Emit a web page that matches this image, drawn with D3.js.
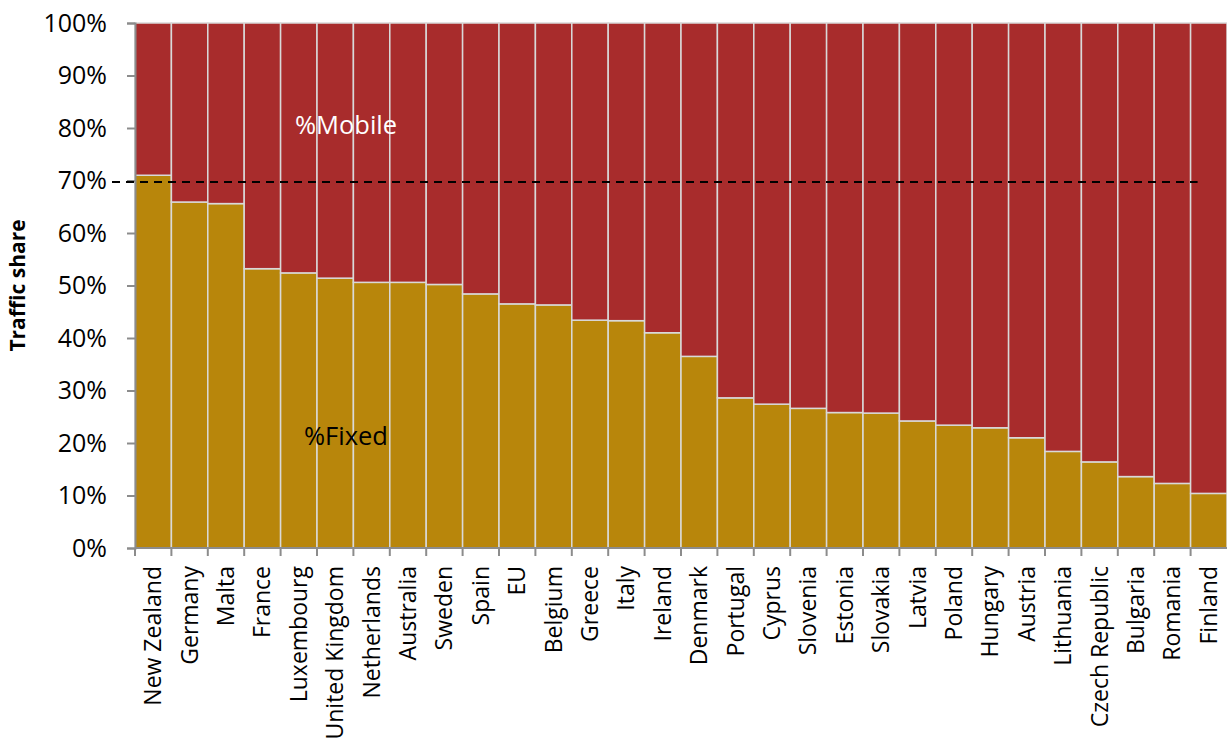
<!DOCTYPE html>
<html>
<head>
<meta charset="utf-8">
<script src="https://d3js.org/d3.v7.min.js"></script>
<style>
  body { margin: 0; background: #fff; }
  svg text { font-family: "Open Sans", sans-serif; }
  .axis path, .axis line { stroke: #8c8c8c; stroke-width: 2; fill: none; }
  .axis text { fill: #000; }
</style>
</head>
<body>
<script>
// countries, sorted by fixed share
var countries = ["New Zealand", "Germany", "Malta", "France", "Luxembourg", "United Kingdom",
  "Netherlands", "Australia", "Sweden", "Spain", "EU", "Belgium", "Greece", "Italy", "Ireland",
  "Denmark", "Portugal", "Cyprus", "Slovenia", "Estonia", "Slovakia", "Latvia", "Poland",
  "Hungary", "Austria", "Lithuania", "Czech Republic", "Bulgaria", "Romania", "Finland"];

// % fixed traffic (mobile is the rest)
var fixedShare = [0.710, 0.659, 0.656, 0.532, 0.524, 0.514, 0.506, 0.506, 0.502, 0.484,
  0.465, 0.463, 0.434, 0.433, 0.410, 0.365, 0.286, 0.274, 0.266, 0.258, 0.257, 0.242,
  0.234, 0.229, 0.210, 0.184, 0.164, 0.136, 0.123, 0.104];

var yTicks = [0, 0.1, 0.2, 0.3, 0.4, 0.5, 0.6, 0.7, 0.8, 0.9, 1.0];
var threshold = 0.7;

var w = 1227, h = 738;
var margin = {top: 23, right: 0, bottom: 190, left: 135};

var svg = d3.select("body").append("svg")
  .attr("width", w)
  .attr("height", h);

var x = d3.scaleBand()
  .domain(countries)
  .range([margin.left, w - margin.right])
  .padding(0);

var y = d3.scaleLinear()
  .domain([0, 1])
  .range([h - margin.bottom, margin.top]);

var data = countries.map(function(c, i) {
  return {country: c, fixed: fixedShare[i], mobile: 1 - fixedShare[i]};
});

var stack = d3.stack().keys(["fixed", "mobile"]);
var layers = stack(data);
var colors = {fixed: "#b8860b", mobile: "#a82c2c"};

svg.selectAll("g.layer")
  .data(layers)
  .enter().append("g")
    .attr("class", "layer")
    .attr("fill", function(d) { return colors[d.key]; })
  .selectAll("rect")
  .data(function(d) { return d; })
  .enter().append("rect")
    .attr("x", function(d) { return x(d.data.country); })
    .attr("width", x.bandwidth())
    .attr("y", function(d) { return y(d[1]); })
    .attr("height", function(d) { return y(d[0]) - y(d[1]); })
    .attr("stroke", "#d9d9d9")
    .attr("stroke-width", 1.5);

// y axis
var yAxis = d3.axisLeft(y)
  .tickValues(yTicks)
  .tickFormat(d3.format(".0%"))
  .tickSize(8)
  .tickPadding(20);
svg.append("g")
  .attr("class", "axis")
  .attr("transform", "translate(" + margin.left + ",0)")
  .call(yAxis)
  .call(function(g) { g.selectAll("text").style("font-size", "25px"); });

// x axis: ticks on band edges
var xAxis = svg.append("g")
  .attr("class", "axis")
  .attr("transform", "translate(0," + y(0) + ")");
xAxis.append("line")
  .attr("x1", margin.left).attr("x2", w - margin.right)
  .attr("y1", 0).attr("y2", 0);
xAxis.selectAll("line.tick")
  .data(countries)
  .enter().append("line")
    .attr("class", "tick")
    .attr("x1", function(d) { return x(d); })
    .attr("x2", function(d) { return x(d); })
    .attr("y1", 0).attr("y2", 8);
xAxis.selectAll("text")
  .data(countries)
  .enter().append("text")
    .attr("transform", function(d) {
      return "translate(" + (x(d) + x.bandwidth() / 2) + ",18) rotate(-90)";
    })
    .attr("dy", "0.35em")
    .style("text-anchor", "end")
    .style("font-size", "23px")
    .text(function(d) { return d; });

// 70% reference line
svg.append("line")
  .attr("x1", x(countries[0]) - 23)
  .attr("x2", x(countries[countries.length - 1]) + 7)
  .attr("y1", y(threshold) + 1.5)
  .attr("y2", y(threshold) + 1.5)
  .attr("stroke", "#000")
  .attr("stroke-width", 2)
  .attr("stroke-dasharray", "8,6");

// series labels
svg.append("text")
  .attr("x", x("United Kingdom") + 29)
  .attr("y", y(0.788))
  .style("text-anchor", "middle")
  .style("font-size", "25.5px")
  .style("fill", "#fff")
  .text("%Mobile");

svg.append("text")
  .attr("x", x("United Kingdom") + 29)
  .attr("y", y(0.196))
  .style("text-anchor", "middle")
  .style("font-size", "25.5px")
  .style("fill", "#000")
  .text("%Fixed");

// y axis title
svg.append("text")
  .attr("transform", "translate(25," + y(0.5) + ") rotate(-90)")
  .style("text-anchor", "middle")
  .style("font-size", "21px")
  .style("font-weight", "bold")
  .text("Traffic share");
</script>
</body>
</html>
